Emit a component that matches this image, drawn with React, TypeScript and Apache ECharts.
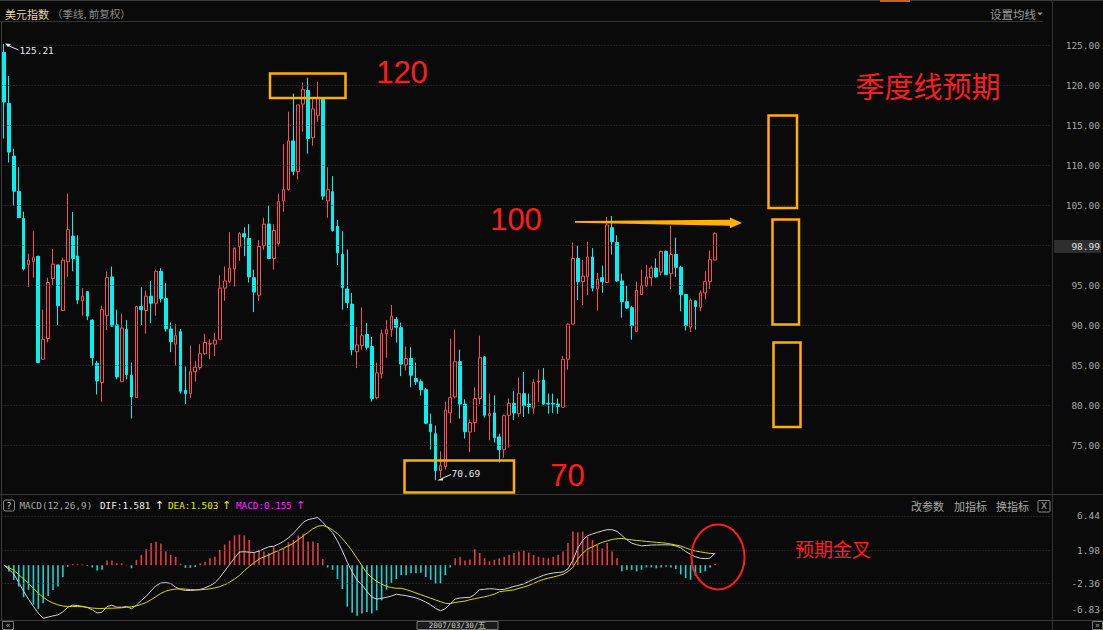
import React, { useEffect, useRef } from 'react';
import * as echarts from 'echarts';

// Quarterly OHLC of the US dollar index
const OPEN = [124.17,117.8,111.2,106.8,103.4,97.67,98.0,98.67,85.8,88.4,
 95.9,97.6,91.9,98.0,101.2,98.7,93.1,94.25,90.7,85.3,
 82.9,91.25,96.1,90.1,83.0,89.55,83.8,81.0,92.4,91.9,
 93.7,92.8,96.8,93.4,89.6,87.7,89.25,81.9,81.5,84.25,
 84.75,86.5,87.7,87.7,88.3,94.7,95.5,97.1,99.9,101.5,
 100.9,96.0,93.8,100.0,102.7,98.4,100.3,105.6,107.0,113.1,
 109.25,117.7,119.4,113.5,116.3,118.4,105.6,106.75,102.4,98.9,
 94.6,92.7,86.75,87.5,88.9,87.4,81.0,84.0,89.0,89.5,
 90.8,89.75,85.1,85.9,83.4,83.0,82.0,77.7,76.5,71.9,
 72.4,79.1,81.1,85.5,80.2,76.7,77.9,80.9,86.1,78.75,
 79.1,76.1,74.5,78.8,80.3,79.0,81.5,80.2,79.7,83.0,
 83.2,80.3,80.3,80.2,79.8,85.8,90.2,98.4,95.5,96.1,
 98.6,94.6,96.0,95.4,102.25,100.4,95.6,93.0,92.25,89.3,
 93.9,95.0,96.0,97.2,96.7,99.3,96.5,98.9,97.3,93.9,
 89.8,93.1,92.3,94.1,95.5,98.2];
const CLOSE = [117.96,111.7,106.8,103.5,97.1,98.2,98.5,85.4,88.3,95.4,
 97.7,92.5,98.2,102.0,98.4,93.2,93.7,91.2,86.0,83.1,
 92.0,96.0,89.95,83.6,89.7,83.9,81.1,92.4,92.0,93.7,
 92.8,96.8,93.4,89.6,88.0,88.75,81.8,81.5,84.25,84.8,
 86.5,87.9,87.8,88.2,94.7,95.6,97.2,99.7,101.5,101.1,
 96.1,94.2,99.9,102.7,98.4,101.9,105.5,107.0,113.1,109.3,
 117.6,119.5,113.4,117.1,118.4,106.2,107.0,101.9,99.1,94.75,
 92.9,87.0,87.6,88.75,87.3,80.9,84.1,89.0,89.5,91.2,
 89.8,85.2,85.9,83.8,83.0,82.0,77.8,76.75,71.9,72.5,
 79.45,81.0,85.5,80.2,76.75,77.9,80.9,86.0,78.8,79.0,
 76.0,74.5,78.75,80.3,79.1,81.5,80.0,79.9,82.9,83.1,
 80.2,80.2,80.2,79.9,85.8,90.2,98.4,95.5,96.2,98.6,
 94.7,95.8,95.5,102.6,100.5,95.6,93.0,92.2,90.0,94.4,
 95.0,96.1,97.2,96.1,99.3,96.4,98.9,97.3,93.9,90.0,
 93.2,92.4,94.1,95.5,98.25,101.5];
const LOW = [113.4,110.4,105.0,103.5,96.9,94.8,96.0,85.3,85.8,87.9,
 95.1,90.1,91.9,96.1,96.8,92.7,91.25,90.7,85.0,81.4,
 80.5,89.45,89.9,83.3,83.0,83.3,78.4,81.0,90.1,89.0,
 90.3,91.25,92.9,89.25,86.7,85.0,81.5,80.2,81.0,83.0,
 84.5,86.35,85.8,86.2,88.3,93.1,95.3,94.9,98.1,98.7,
 95.4,91.7,93.1,99.5,98.3,97.0,99.9,104.25,106.9,108.8,
 108.3,114.25,111.5,112.5,115.5,105.7,103.5,101.75,97.6,92.0,
 92.2,86.3,84.7,87.0,87.0,80.5,80.8,83.4,86.0,88.6,
 87.9,83.7,84.4,82.3,82.6,81.25,77.7,74.5,70.69,71.0,
 72.0,77.8,80.9,78.4,75.9,74.2,76.7,80.2,78.5,75.7,
 75.4,72.9,73.5,74.75,78.2,78.6,78.6,79.0,79.0,80.5,
 80.1,79.0,79.1,79.0,79.8,84.5,90.2,93.2,92.6,93.8,
 94.3,91.9,94.1,95.4,98.9,95.5,91.0,92.1,88.25,89.2,
 93.9,94.8,95.0,96.0,96.3,96.4,94.6,96.1,91.8,89.4,
 89.2,89.5,91.8,93.3,94.6,98.2];
const HIGH = [125.21,121.2,112.1,109.8,104.25,99.0,101.8,98.75,92.0,96.0,
 99.6,97.6,98.5,106.5,104.2,101.3,94.7,94.3,90.8,85.6,
 92.5,96.8,97.4,92.0,91.5,90.7,85.4,92.5,94.8,94.4,
 95.6,97.0,97.2,95.3,90.4,90.2,89.6,84.9,87.5,85.6,
 87.7,89.0,88.3,89.1,96.3,97.4,101.7,99.75,101.7,102.3,
 102.7,97.0,100.7,103.5,105.0,102.7,106.5,112.7,116.75,119.0,
 117.6,120.4,121.0,118.4,120.5,118.4,109.8,108.7,103.2,101.8,
 99.5,94.1,89.8,92.3,90.3,88.6,85.4,89.5,90.7,92.6,
 91.1,90.4,87.4,87.3,85.4,83.3,82.2,79.0,77.5,74.3,
 80.5,88.4,89.5,87.0,80.8,78.3,82.3,88.75,86.2,81.5,
 81.3,76.5,78.9,80.9,81.8,83.5,84.2,81.5,83.3,84.5,
 84.7,81.5,81.5,80.9,86.2,90.3,100.4,100.0,98.25,100.5,
 99.7,96.6,97.5,103.6,103.7,101.3,96.5,95.0,92.5,95.5,
 97.0,97.6,97.5,98.4,99.4,99.4,102.5,101.0,97.5,93.9,
 93.4,93.2,94.4,96.8,99.4,101.7];

// MACD(12,26,9)
const DIF = [0,-0.55,-1.15,-2.27,-3.40,-4.44,-5.40,-6.27,-6.93,-6.78,
 -6.62,-6.49,-6.10,-5.49,-5.22,-5.27,-5.38,-5.53,-5.84,-6.25,
 -6.14,-5.40,-5.23,-5.49,-5.49,-5.40,-5.69,-5.23,-4.59,-4.07,
 -3.33,-2.67,-2.32,-2.27,-2.40,-2.88,-3.17,-3.29,-3.31,-3.25,
 -3.17,-2.96,-2.68,-2.31,-1.61,-0.77,0.09,0.94,1.72,1.76,
 1.70,1.66,1.84,2.14,2.41,2.47,2.76,3.11,3.57,4.15,
 4.85,5.60,5.95,6.09,6.24,5.59,4.88,4.26,3.17,1.87,
 0.39,-0.87,-1.93,-2.57,-3.43,-4.16,-4.44,-4.32,-4.20,-4.03,
 -3.79,-3.89,-3.98,-4.12,-4.27,-4.51,-4.82,-5.18,-5.64,-5.95,
 -5.68,-5.05,-4.43,-4.28,-4.24,-4.20,-3.83,-3.20,-3.14,-3.07,
 -3.11,-3.19,-3.15,-2.97,-2.78,-2.62,-2.44,-2.14,-1.84,-1.58,
 -1.32,-1.14,-1.02,-0.95,-0.88,-0.49,0.64,2.21,3.23,3.85,
 4.08,4.29,4.48,4.64,4.64,4.43,3.87,3.32,2.87,2.68,
 2.53,2.58,2.63,2.65,2.66,2.66,2.65,2.51,2.28,1.79,
 1.41,1.09,0.91,0.85,0.92,1.581];
const DEA = [0,-0.32,-0.67,-1.24,-1.80,-2.37,-3.02,-3.66,-4.19,-4.63,
 -4.95,-5.18,-5.33,-5.40,-5.40,-5.40,-5.43,-5.50,-5.60,-5.65,
 -5.65,-5.62,-5.62,-5.60,-5.56,-5.49,-5.43,-5.31,-5.12,-4.87,
 -4.50,-4.10,-3.69,-3.38,-3.21,-3.12,-3.09,-3.13,-3.18,-3.22,
 -3.22,-3.16,-3.08,-2.96,-2.80,-2.55,-2.22,-1.82,-1.34,-0.73,
 -0.17,0.32,0.80,1.09,1.35,1.66,1.92,2.22,2.54,2.85,
 3.33,3.81,4.29,4.78,5.09,5.19,4.99,4.61,4.11,3.47,
 2.71,1.85,0.89,-0.07,-1.03,-1.63,-2.12,-2.47,-2.77,-2.92,
 -3.01,-3.02,-3.18,-3.39,-3.62,-3.85,-4.08,-4.31,-4.54,-4.76,
 -4.98,-5.02,-4.86,-4.78,-4.69,-4.51,-4.38,-4.24,-4.13,-3.97,
 -3.78,-3.47,-3.38,-3.30,-3.22,-3.03,-2.85,-2.64,-2.37,-2.09,
 -1.86,-1.69,-1.55,-1.38,-1.19,-0.81,-0.27,0.80,1.55,2.09,
 2.41,2.72,2.99,3.18,3.36,3.46,3.49,3.40,3.31,3.24,
 3.18,3.11,3.05,2.99,2.94,2.88,2.76,2.64,2.51,2.26,
 2.03,1.86,1.74,1.63,1.54,1.503];
const MACD_BAR = [0,-0.83,-1.92,-2.79,-4.18,-3.22,-5.14,-5.71,-4.97,-4.01,
 -3.23,-2.79,-1.57,-0.2,0.15,0.13,0.1,-0.1,-0.3,-0.7,
 -0.6,0.6,0.6,0.25,0.25,0.05,-0.4,0.7,1.35,2.1,
 2.9,3.05,2.85,1.8,1.35,1.1,0.2,-0.35,-0.35,-0.25,
 0.25,0.45,0.9,1.1,2.0,2.7,3.2,3.9,4.0,3.9,
 3.3,1.6,2.0,1.8,1.6,2.4,1.8,2.2,3.0,3.3,
 3.9,4.1,3.1,3.1,2.9,0.8,-0.3,-0.6,-1.8,-3.1,
 -5.4,-6.2,-6.6,-6.3,-6.1,-6.3,-5.9,-4.6,-3.2,-2.3,
 -1.8,-1.3,-1.3,-1.05,-1.05,-1.0,-1.55,-1.9,-2.4,-2.4,
 -1.3,-0.3,0.9,1.1,0.6,0.7,2.1,1.6,0.9,0.5,
 0.7,0.9,1.1,1.35,1.6,1.8,1.9,1.65,1.35,1.1,
 1.0,0.9,1.1,1.35,1.8,2.9,4.4,4.3,4.4,3.75,
 3.3,2.65,2.2,2.9,1.8,0.9,-0.8,-0.6,-0.6,-0.8,
 -0.6,-0.3,-0.3,-0.4,-0.3,-0.2,-0.3,-0.5,-1.2,-1.7,
 -1.9,-1.4,-1.0,-0.8,-0.3,0.155];

const PRICE_LABELS = [75, 80, 85, 90, 95, 105, 110, 115, 120, 125];
const PRICE_GRID = [75, 80, 85, 90, 95, 100, 105, 110, 115, 120, 125];
const MACD_LABELS = [6.44, 1.98, -2.36, -6.83];
const MACD_GRID = [6.44, 1.98, -2.36];
const START_YEAR = 1986;
const QUARTER_ENDS = ['03/31', '06/30', '09/30', '12/31'];
const EMPTY_SLOTS = 68;

const N = OPEN.length;
const CATEGORIES: string[] = [];
for (let k = 0; k < N + EMPTY_SLOTS; k++) {
  CATEGORIES.push(k < N ? `${START_YEAR + Math.floor(k / 4)}/${QUARTER_ENDS[k % 4]}` : `pad${k}`);
}

const MONO = '"DejaVu Sans Mono", "Liberation Mono", monospace';
const CJK = '"Noto Sans CJK SC", sans-serif';
const ORANGE = '#ffb000';
const RED_TXT = '#ff1c1c';
const GRID_LEFT = 1.55;
const GRID_W = 1049.7;

function txt(x: number, y: number, text: string, fill: string, font: string, align = 'left', z = 100) {
  return {
    type: 'text', x, y, z, silent: true,
    style: { text, fill, font, textAlign: align, textVerticalAlign: 'middle', align, verticalAlign: 'middle' },
  };
}
function ln(x1: number, y1: number, x2: number, y2: number, stroke: string, lineWidth = 1, z = 50) {
  return { type: 'line', z, silent: true, shape: { x1, y1, x2, y2 }, style: { stroke, lineWidth } };
}
function box(x: number, y: number, w: number, h: number, stroke: string, lineWidth: number, z = 100) {
  return { type: 'rect', z, silent: true, shape: { x, y, width: w, height: h }, style: { fill: 'none', stroke, lineWidth } };
}

export default function App() {
  const ref = useRef<HTMLDivElement>(null);
  useEffect(() => {
    if (!ref.current) return;
    const chart = echarts.init(ref.current, null, { renderer: 'svg' });
    const candleData = OPEN.map((o, i) => [o, CLOSE[i], LOW[i], HIGH[i]]);

    const graphic: any[] = [
      // frame lines
      { type: 'rect', z: 40, silent: true, shape: { x: 0, y: 0, width: 1103, height: 1 }, style: { fill: '#3a3a3a' } },
      { type: 'rect', z: 41, silent: true, shape: { x: 880, y: 0, width: 30, height: 2 }, style: { fill: '#d2601a' } },
      ln(0, 21.5, 1043, 21.5, '#333'),
      ln(1052.5, 0, 1052.5, 630, '#333'),
      ln(1.5, 22, 1.5, 620, '#3a3a3a'),
      ln(0, 494.5, 1103, 494.5, '#3a3a3a'),
      ln(0, 620.5, 1103, 620.5, '#3a3a3a'),
      // header
      txt(5, 13.5, '美元指数', '#e6d9a2', `11px ${CJK}`),
      txt(52, 13.5, '（季线, 前复权）', '#8c8c8c', `10.5px ${CJK}`),
      txt(990, 14, '设置均线', '#9a9a9a', `11.5px ${CJK}`),
      { type: 'polygon', z: 100, silent: true, shape: { points: [[1037.5, 12.5], [1042.5, 12.5], [1040, 15.5]] }, style: { fill: '#9a9a9a' } },
      // current price tag
      { type: 'rect', z: 60, silent: true, shape: { x: 1054, y: 240, width: 47, height: 13 }, style: { fill: '#2e2e2e' } },
      txt(1100, 246.5, '98.99', '#e0e0e0', `9.5px ${MONO}`, 'right'),
      // high / low markers
      { type: 'polygon', z: 100, silent: true, shape: { points: [[5, 43.5], [11, 44], [8, 47]] }, style: { fill: '#e8e8e8' } },
      ln(8, 45.5, 18.5, 50, '#e8e8e8', 1, 100),
      txt(19.5, 50.5, '125.21', '#e8e8e8', `9.5px ${MONO}`),
      { type: 'polygon', z: 100, silent: true, shape: { points: [[437, 480.5], [443, 477.5], [443, 480.5]] }, style: { fill: '#e8e8e8' } },
      ln(442, 478.5, 451, 474.5, '#e8e8e8', 1, 100),
      txt(451.5, 473, '70.69', '#e8e8e8', `9.5px ${MONO}`),
      // annotation boxes
      box(270, 73.5, 75.5, 24.5, ORANGE, 2.5),
      box(404.5, 460.5, 109.5, 32, ORANGE, 2.5),
      box(768.5, 115.5, 28.5, 92.5, ORANGE, 2.5),
      box(772.5, 219.5, 26.5, 105, ORANGE, 2.5),
      box(773.5, 342.5, 27, 84.5, ORANGE, 2.5),
      {
        type: 'polygon', z: 100, silent: true,
        shape: { points: [[575, 221], [730, 219.8], [730, 217.5], [742, 223], [730, 228.3], [730, 225.8], [575, 222.8]] },
        style: { fill: ORANGE },
      },
      txt(402, 72, '120', RED_TXT, `31px "Liberation Sans", Arial, sans-serif`, 'center'),
      txt(516, 219, '100', RED_TXT, `31px "Liberation Sans", Arial, sans-serif`, 'center'),
      txt(567.5, 475, '70', RED_TXT, `31px "Liberation Sans", Arial, sans-serif`, 'center'),
      txt(928, 85, '季度线预期', RED_TXT, `29px ${CJK}`, 'center'),
      txt(833, 548, '预期金叉', RED_TXT, `19px ${CJK}`, 'center'),
      { type: 'ellipse', z: 100, silent: true, shape: { cx: 718, cy: 557, rx: 26.5, ry: 32.5 }, style: { fill: 'none', stroke: RED_TXT, lineWidth: 2 } },
      // MACD header
      { type: 'rect', z: 100, silent: true, shape: { x: 3.5, y: 500, width: 11, height: 11, r: 2 }, style: { fill: 'none', stroke: '#888', lineWidth: 1 } },
      txt(9, 505.8, '?', '#cccccc', `9px ${MONO}`, 'center'),
      txt(19.5, 505.8, 'MACD(12,26,9)', '#a8a8a8', `9.3px ${MONO}`),
      txt(100, 505.8, 'DIF:1.581', '#f0f0f0', `9.3px ${MONO}`),
      txt(159.5, 505.8, '↑', '#f0f0f0', `11px "DejaVu Sans", sans-serif`, 'center'),
      txt(168, 505.8, 'DEA:1.503', '#e6e600', `9.3px ${MONO}`),
      txt(226.5, 505.8, '↑', '#e6e600', `11px "DejaVu Sans", sans-serif`, 'center'),
      txt(236, 505.8, 'MACD:0.155', '#ff22ff', `9.3px ${MONO}`),
      txt(300.5, 505.8, '↑', '#ff22ff', `11px "DejaVu Sans", sans-serif`, 'center'),
      txt(911, 505.8, '改参数', '#a8a8a8', `11px ${CJK}`),
      txt(954, 505.8, '加指标', '#a8a8a8', `11px ${CJK}`),
      txt(996, 505.8, '换指标', '#a8a8a8', `11px ${CJK}`),
      { type: 'rect', z: 100, silent: true, shape: { x: 1038, y: 500.5, width: 12, height: 11.5, r: 1 }, style: { fill: 'none', stroke: '#888', lineWidth: 1 } },
      txt(1044, 506.2, 'X', '#aaaaaa', `9px ${MONO}`, 'center'),
      // bottom strip
      { type: 'rect', z: 100, silent: true, shape: { x: 2.5, y: 621.5, width: 11, height: 8 }, style: { fill: 'none', stroke: '#777', lineWidth: 1 } },
      txt(8, 625.3, '«', '#aaaaaa', `8px "DejaVu Sans", sans-serif`, 'center'),
      { type: 'rect', z: 100, silent: true, shape: { x: 417, y: 621.5, width: 81, height: 8 }, style: { fill: '#1a1a1a', stroke: '#777', lineWidth: 1 } },
      txt(457.5, 625.6, '2007/03/30/五', '#d0d0d0', `7.5px ${MONO}`, 'center'),
      { type: 'rect', z: 100, silent: true, shape: { x: 1092.5, y: 621.5, width: 10, height: 8 }, style: { fill: 'none', stroke: '#777', lineWidth: 1 } },
      txt(1097.5, 625.3, '»', '#aaaaaa', `8px "DejaVu Sans", sans-serif`, 'center'),
    ];

    const option: any = {
      animation: false,
      backgroundColor: '#0a0a0a',
      grid: [
        { left: GRID_LEFT, width: GRID_W, top: 21.7, height: 464 },
        { left: GRID_LEFT, width: GRID_W, top: 512, height: 108 },
      ],
      xAxis: [0, 1].map((g) => ({
        type: 'category', gridIndex: g, data: CATEGORIES, boundaryGap: true,
        axisLine: { show: false }, axisTick: { show: false }, axisLabel: { show: false }, splitLine: { show: false },
      })),
      yAxis: [
        {
          type: 'value', gridIndex: 0, position: 'right', min: 70, max: 128, scale: true,
          axisLine: { show: false }, axisTick: { show: false }, splitLine: { show: false },
          axisLabel: {
            customValues: PRICE_LABELS, align: 'right', margin: 49, color: '#a8a8a8',
            fontFamily: MONO, fontSize: 9.5, formatter: (v: number) => v.toFixed(2),
          },
        },
        {
          type: 'value', gridIndex: 1, position: 'right', min: -7.16, max: 6.95, scale: true,
          axisLine: { show: false }, axisTick: { show: false }, splitLine: { show: false },
          axisLabel: {
            customValues: MACD_LABELS, align: 'right', margin: 49, color: '#a8a8a8',
            fontFamily: MONO, fontSize: 9.5,
            formatter: (v: number) => (v < -6 ? `{low|${v.toFixed(2)}}` : v.toFixed(2)),
            rich: { low: { color: '#a8a8a8', fontFamily: MONO, fontSize: 9.5, padding: [0, 0, 16, 0] } },
          },
        },
      ],
      series: [
        {
          type: 'line', xAxisIndex: 0, yAxisIndex: 0, data: [], silent: true, z: 1,
          markLine: {
            silent: true, symbol: ['none', 'none'], label: { show: false },
            lineStyle: { type: [1, 2], color: '#3c3c3c', width: 1 },
            data: PRICE_GRID.map((v) => ({ yAxis: v })),
          },
        },
        {
          type: 'candlestick', xAxisIndex: 0, yAxisIndex: 0, data: candleData, barWidth: 3.2, z: 3,
          itemStyle: { color: '#0a0a0a', color0: '#00f2f2', borderColor: '#ff4c4c', borderColor0: '#00f2f2', borderWidth: 1 },
        },
        {
          type: 'line', xAxisIndex: 1, yAxisIndex: 1, data: [], silent: true, z: 1,
          markLine: {
            silent: true, symbol: ['none', 'none'], label: { show: false },
            lineStyle: { type: [1, 2], color: '#3c3c3c', width: 1 },
            data: MACD_GRID.map((v) => ({ yAxis: v })),
          },
        },
        {
          type: 'bar', xAxisIndex: 1, yAxisIndex: 1, data: MACD_BAR, barWidth: 1.6, z: 2,
          itemStyle: { color: (p: any) => (p.value >= 0 ? '#e43c3c' : '#1fd2d2') },
        },
        {
          type: 'line', xAxisIndex: 1, yAxisIndex: 1, data: DIF, symbol: 'none', z: 4,
          lineStyle: { color: '#d2d2d2', width: 1 },
        },
        {
          type: 'line', xAxisIndex: 1, yAxisIndex: 1, data: DEA, symbol: 'none', z: 4,
          lineStyle: { color: '#d8d800', width: 1 },
        },
      ],
      graphic,
    };
    chart.setOption(option);
    return () => chart.dispose();
  }, []);

  return (
    <div
      ref={ref}
      style={{ position: 'fixed', left: 0, top: 0, width: 1103, height: 630, background: '#0a0a0a' }}
    />
  );
}
